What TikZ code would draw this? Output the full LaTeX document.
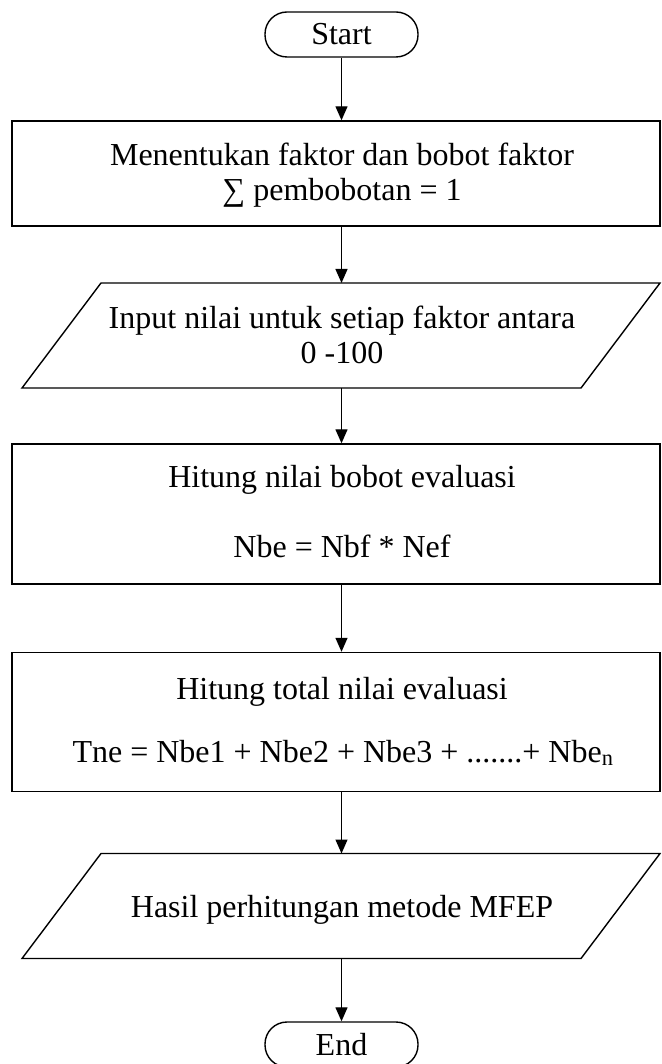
\documentclass[tikz,border=0pt]{standalone}
\usepackage{fontspec}
\setmainfont{Liberation Serif}
\usetikzlibrary{arrows.meta}
\begin{document}
\begin{tikzpicture}[x=1pt,y=-1pt,
  every node/.style={font=\fontsize{32}{36}\selectfont},
  shapeline/.style={draw,line width=1.4pt},
  term/.style={shapeline,rounded corners=22pt,minimum width=153pt,minimum height=45pt,inner sep=0pt},
  procbox/.style={shapeline,minimum width=648pt,inner sep=0pt},
  % frame of an input/output shape; the slanted outline is drawn from its corners
  ioframe/.style={minimum width=638pt,minimum height=105pt,inner sep=0pt,outer sep=0pt},
  txtline/.style={anchor=base,inner sep=0pt},
  flow/.style={line width=1.3pt,-{Triangle[length=14pt,width=12pt]}}
]
\clip (0,0) rectangle (661,1064);

% terminators
\node[term] (start) at (341.5,34.5) {Start};
\node[term] (end) at (341.5,1044.5) {End};

% step 1
\node[procbox,minimum height=105pt] (b1) at (336,173.5) {};
\node[txtline] (b1a) at (342,166) {Menentukan faktor dan bobot faktor};
\node[txtline] (b1b) at (342,201) {∑ pembobotan = 1};

% input
\node[ioframe] (p1) at (341,335.5) {};
\draw[shapeline] ([xshift=79pt]p1.north west) -- (p1.north east)
  -- ([xshift=-79pt]p1.south east) -- (p1.south west) -- cycle;
\node[txtline] (p1a) at (342,328) {Input nilai untuk setiap faktor antara};
\node[txtline] (p1b) at (342,363) {0 -100};

% step 2
\node[procbox,minimum height=140pt] (b2) at (336,514) {};
\node[txtline] (b2a) at (342,487) {Hitung nilai bobot evaluasi};
\node[txtline] (b2b) at (342,557) {Nbe = Nbf * Nef};

% step 3
\node[procbox,minimum height=139pt] (b3) at (336,722) {};
\node[txtline] (b3a) at (342,699) {Hitung total nilai evaluasi};
\node[txtline] (b3b) at (343,762) {Tne = Nbe1 + Nbe2 + Nbe3 + .......+ Nbe\textsubscript{n}};

% output
\node[ioframe] (p2) at (341,906) {};
\draw[shapeline] ([xshift=79pt]p2.north west) -- (p2.north east)
  -- ([xshift=-79pt]p2.south east) -- (p2.south west) -- cycle;
\node[txtline] (p2a) at (342,917) {Hasil perhitungan metode MFEP};

% connectors
\draw[flow] (start) -- (b1.north -| start);
\draw[flow] (b1.south -| start) -- (p1.north -| start);
\draw[flow] (p1.south -| start) -- (b2.north -| start);
\draw[flow] (b2.south -| start) -- (b3.north -| start);
\draw[flow] (b3.south -| start) -- (p2.north -| start);
\draw[flow] (p2.south -| start) -- (end);
\end{tikzpicture}
\end{document}
